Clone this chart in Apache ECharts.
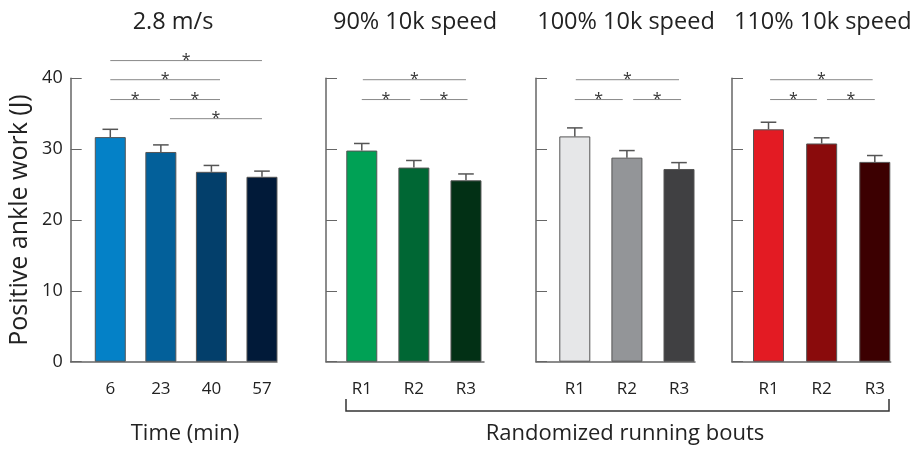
<!DOCTYPE html>
<html>
<head>
<meta charset="utf-8">
<script src="https://cdn.jsdelivr.net/npm/echarts@6/dist/echarts.min.js"></script>
<style>html,body{margin:0;padding:0;background:#fff}#c{width:911px;height:450px}</style>
</head>
<body>
<div id="c"></div>
<script>
// ---- data ----
const timeCategories = ['6', '23', '40', '57'];
const boutCategories = ['R1', 'R2', 'R3'];
const panelTitles = ['2.8 m/s', '90% 10k speed', '100% 10k speed', '110% 10k speed'];

const meanTime = [31.7, 29.6, 26.8, 26.1];
const seTime   = [1.1, 1.0, 0.9, 0.8];
const mean90   = [29.8, 27.4, 25.6];
const se90     = [1.0, 1.0, 0.9];
const mean100  = [31.8, 28.8, 27.2];
const se100    = [1.2, 1.0, 0.9];
const mean110  = [32.8, 30.8, 28.2];
const se110    = [1.0, 0.8, 0.9];

// significance bars: [fromCategoryIndex, toCategoryIndex, level (J)]
const sigTime = [[0, 3, 42.5], [0, 2.17, 39.8], [0, 0.98, 37.0], [1.18, 2.17, 37.0], [1.18, 3, 34.3]];
const sig90   = [[0.02, 2.0, 39.8], [0, 0.93, 37.0], [1.12, 2.03, 37.0]];
const sig100  = [[0.02, 2.0, 39.8], [0, 0.92, 37.0], [1.12, 2.04, 37.0]];
const sig110  = [[0.03, 1.96, 39.8], [0.03, 0.91, 37.0], [1.1, 2.0, 37.0]];

const yMin = 0, yMax = 40, yInterval = 10;

// ---- styles / layout ----
const FONT = 'Open Sans';
const panels = [
  { cats: timeCategories, mean: meanTime, se: seTime, sig: sigTime,
    colors: ['#0481C7', '#03609A', '#033F6B', '#011A39'],
    left: 70.7, width: 206.3, min: -0.783, max: 3.297, labels: true },
  { cats: boutCategories, mean: mean90, se: se90, sig: sig90,
    colors: ['#00A155', '#006734', '#023015'],
    left: 326, width: 158, min: -0.687, max: 2.346, labels: false },
  { cats: boutCategories, mean: mean100, se: se100, sig: sig100,
    colors: ['#E6E7E8', '#939598', '#404042'],
    left: 536, width: 159, min: -0.745, max: 2.307, labels: false },
  { cats: boutCategories, mean: mean110, se: se110, sig: sig110,
    colors: ['#E31B23', '#8A0B0C', '#3C0001'],
    left: 732, width: 158.7, min: -0.687, max: 2.299, labels: false }
];

const gridTop = 78.3, gridHeight = 283.4;
const axisColor = '#666';

const grids = [], xAxes = [], yAxes = [], series = [];
panels.forEach((p, k) => {
  grids.push({ left: p.left, width: p.width, top: gridTop, height: gridHeight });
  const cats = p.cats;
  xAxes.push({
    type: 'value', gridIndex: k, min: p.min, max: p.max,
    splitLine: { show: false },
    axisLine: { show: true, onZero: false, lineStyle: { color: axisColor, width: 1.5 } },
    axisTick: { show: false },
    axisLabel: {
      show: true, customValues: cats.map((c, i) => i),
      formatter: v => cats[Math.round(v)],
      color: '#222', fontFamily: FONT, fontSize: 17, margin: 19
    }
  });
  yAxes.push({
    type: 'value', gridIndex: k, min: yMin, max: yMax, interval: yInterval,
    splitLine: { show: false },
    axisLine: { show: true, onZero: false, lineStyle: { color: axisColor, width: 1.5 } },
    axisTick: { show: true, inside: true, length: 11, lineStyle: { color: axisColor, width: 1 } },
    axisLabel: { show: p.labels, color: '#222', fontFamily: FONT, fontSize: 18, margin: 8 },
    name: p.labels ? 'Positive ankle work (J)' : '',
    nameLocation: 'middle', nameGap: 38, nameRotate: 90,
    nameTextStyle: { color: '#222', fontFamily: FONT, fontSize: 25 }
  });
  series.push({
    type: 'bar', xAxisIndex: k, yAxisIndex: k, barWidth: 31,
    itemStyle: { borderColor: '#555', borderWidth: 1 },
    data: p.mean.map((v, i) => ({ value: [i, v], itemStyle: { color: p.colors[i] } })),
    z: 2, animation: false
  });
  // error bars (upper half)
  series.push({
    type: 'custom', xAxisIndex: k, yAxisIndex: k, z: 3, animation: false,
    data: p.mean.map((v, i) => [i, v, v + p.se[i]]),
    renderItem: (params, api) => {
      const a = api.coord([api.value(0), api.value(1)]);
      const b = api.coord([api.value(0), api.value(2)]);
      const half = 7.8;
      return { type: 'group', children: [
        { type: 'line', shape: { x1: a[0], y1: a[1], x2: b[0], y2: b[1] }, style: { stroke: '#555', lineWidth: 1.5 } },
        { type: 'line', shape: { x1: b[0] - half, y1: b[1], x2: b[0] + half, y2: b[1] }, style: { stroke: '#555', lineWidth: 1.5 } }
      ] };
    }
  });
  // significance lines
  series.push({
    type: 'custom', xAxisIndex: k, yAxisIndex: k, z: 3, animation: false, clip: false,
    data: p.sig,
    renderItem: (params, api) => {
      const a = api.coord([api.value(0), api.value(2)]);
      const b = api.coord([api.value(1), api.value(2)]);
      return { type: 'group', children: [
        { type: 'line', shape: { x1: a[0], y1: a[1], x2: b[0], y2: b[1] }, style: { stroke: '#888', lineWidth: 1 } },
        { type: 'text', x: (a[0] + b[0]) / 2, y: a[1], style: { text: '*', fill: '#333', font: '16px ' + FONT, align: 'center', verticalAlign: 'middle' } }
      ] };
    }
  });
});

const titleCenters = [173, 415, 626, null];
const graphics = panelTitles.map((t, i) => ({
  type: 'text',
  x: titleCenters[i] === null ? 734 : titleCenters[i], y: 22,
  style: { text: t, fill: '#222', font: '23.5px ' + FONT, align: titleCenters[i] === null ? 'left' : 'center', verticalAlign: 'middle' }
}));
graphics.push({ type: 'text', x: 185, y: 434, style: { text: 'Time (min)', fill: '#222', font: '22px ' + FONT, align: 'center', verticalAlign: 'middle' } });
graphics.push({ type: 'text', x: 625, y: 434, style: { text: 'Randomized running bouts', fill: '#222', font: '22px ' + FONT, align: 'center', verticalAlign: 'middle' } });
graphics.push({ type: 'polyline', shape: { points: [[346, 399], [346, 411], [889, 411], [889, 399]] }, style: { stroke: '#333', lineWidth: 1.5, fill: null } });

const chart = echarts.init(document.getElementById('c'));
chart.setOption({
  animation: false,
  backgroundColor: '#fff',
  grid: grids, xAxis: xAxes, yAxis: yAxes, series: series,
  graphic: graphics
});
</script>
</body>
</html>
